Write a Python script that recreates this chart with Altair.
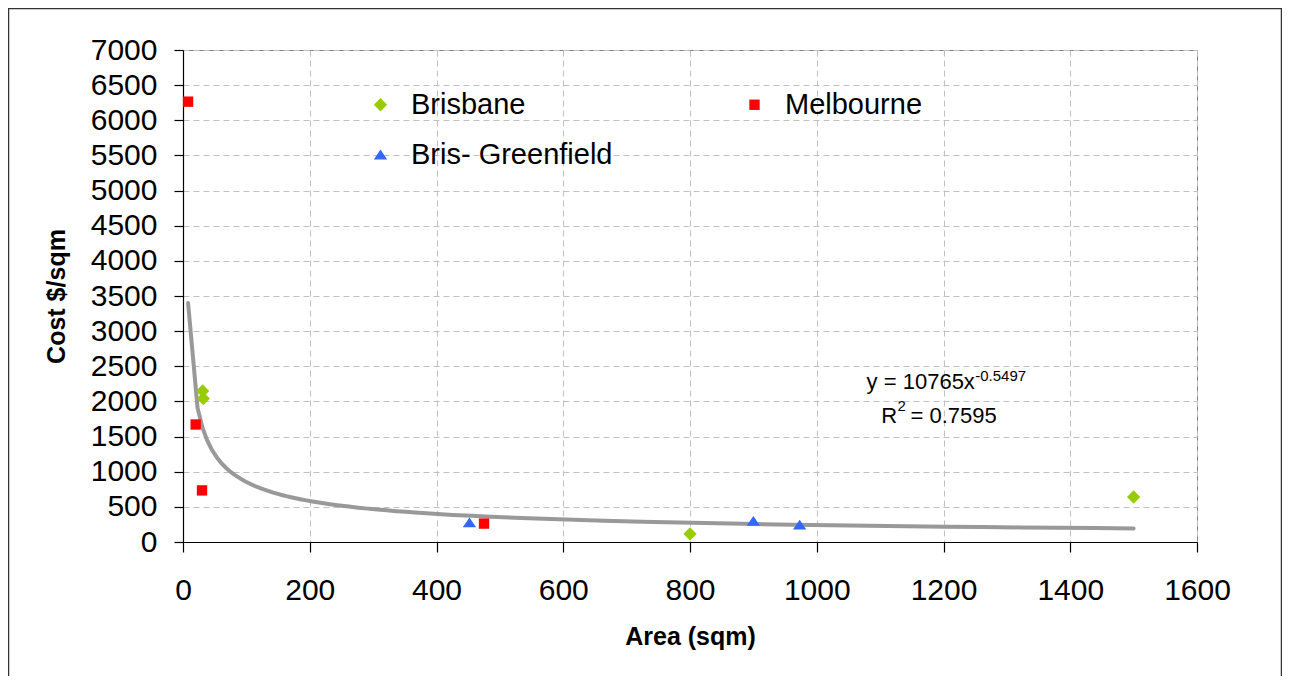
import altair as alt
import pandas as pd

# ---- data ----
brisbane_area = [31, 32, 800, 1500]
brisbane_cost = [2150, 2040, 115, 640]
melbourne_area = [8, 20, 30, 475]
melbourne_cost = [6265, 1672, 734, 262]
greenfield_area = [452, 900, 973]
greenfield_cost = [280, 300, 246]

cities = ["Brisbane", "Bris- Greenfield", "Melbourne"]
city_colors = ["#99CC00", "#3366FF", "#FF0000"]
x_ticks = [0, 200, 400, 600, 800, 1000, 1200, 1400, 1600]
y_ticks = list(range(0, 7001, 500))

rows = []
for a, c in zip(brisbane_area, brisbane_cost):
    rows.append({"area": a, "cost": c, "city": "Brisbane"})
for a, c in zip(melbourne_area, melbourne_cost):
    rows.append({"area": a, "cost": c, "city": "Melbourne"})
for a, c in zip(greenfield_area, greenfield_cost):
    rows.append({"area": a, "cost": c, "city": "Bris- Greenfield"})
df = pd.DataFrame(rows)

FONT = "Liberation Sans, Arial, Helvetica, sans-serif"

xscale = alt.Scale(domain=[0, 1600], nice=False, zero=False)
yscale = alt.Scale(domain=[0, 7000], nice=False)

xaxis = alt.Axis(values=x_ticks, format="d", title="Area (sqm)", grid=True, tickSize=10,
                 labelPadding=23, labelFlush=False, labelOverlap=False,
                 titleX=507, titleY=94, titleBaseline="middle", titleAnchor="middle")
yaxis = alt.Axis(values=y_ticks, format="d", title="Cost $/sqm", grid=True, tickSize=9,
                 labelPadding=17, labelBaseline="middle", labelOverlap=False,
                 titleX=-127, titleY=246, titleBaseline="middle", titleAngle=-90,
                 titleAnchor="middle")

X = alt.X("area:Q", scale=xscale, axis=xaxis)
Y = alt.Y("cost:Q", scale=yscale, axis=yaxis)

base = alt.Chart(df)

trend = base.transform_regression("area", "cost", method="pow").mark_line(
    color="#999999", strokeWidth=4, strokeCap="round"
).encode(x=X, y=Y)

SHAPES = [
    "M0,-0.95L0.95,0L0,0.95L-0.95,0Z",               # diamond (Brisbane)
    "M-0.95,0.7L0,-0.7L0.95,0.7Z",                    # triangle (Bris- Greenfield)
    "M-0.74,-0.74L0.74,-0.74L0.74,0.74L-0.74,0.74Z",  # square (Melbourne)
]

points = base.mark_point(filled=True, opacity=1, strokeWidth=0, size=196).encode(
    x=X, y=Y,
    color=alt.Color("city:N", title=None,
                    scale=alt.Scale(domain=cities, range=city_colors)),
    shape=alt.Shape("city:N", title=None, scale=alt.Scale(domain=cities, range=SHAPES)),
)

def note(text, x, y, size, align):
    return alt.Chart(pd.DataFrame({"t": [text]})).mark_text(
        font=FONT, fontSize=size, align=align, baseline="alphabetic", color="black"
    ).encode(
        x=alt.X(datum=x, type="quantitative", scale=xscale, axis=xaxis),
        y=alt.Y(datum=y, type="quantitative", scale=yscale, axis=yaxis),
        text="t:N",
    )

notes = [
    note("y = 10765x", 1249.5, 2180, 22, "right"),
    note("-0.5497", 1250, 2290, 15, "left"),
    note("R", 1101.7, 1692, 22, "left"),
    note("2", 1127.5, 1867, 15, "left"),
    note("= 0.7595", 1148, 1692, 22, "left"),
]

frame = alt.Chart(pd.DataFrame({"a": [0]})).mark_rect(
    fill=None, stroke="#333333", strokeWidth=1.5
).encode(x=alt.value(-174.5), x2=alt.value(1098.5), y=alt.value(-41.5), y2=alt.value(720))

chart = alt.layer(trend, points, *notes, frame).properties(
    width=1014, height=492,
    autosize=alt.AutoSizeParams(type="none"),
    padding={"left": 175, "top": 42, "right": 85, "bottom": 134},
    background="white",
).configure_view(
    stroke="#808080", strokeWidth=1
).configure_axis(
    labelFont=FONT, labelFontSize=30, labelColor="black",
    titleFont=FONT, titleFontSize=25, titleFontWeight="bold", titleColor="black",
    domainColor="black", domainWidth=1.2, tickColor="black", tickWidth=1.2,
    gridColor="#C0C0C0", gridDash=[6, 4], gridWidth=1,
).configure_legend(
    orient="none", legendX=183, legendY=40, columns=2, columnPadding=127,
    rowPadding=20, labelFont=FONT, labelFontSize=29, labelColor="black",
    labelOffset=16, symbolSize=196, symbolStrokeWidth=0, labelLimit=400,
)

chart.save("out.html", embed_options={"renderer": "svg", "actions": False})
